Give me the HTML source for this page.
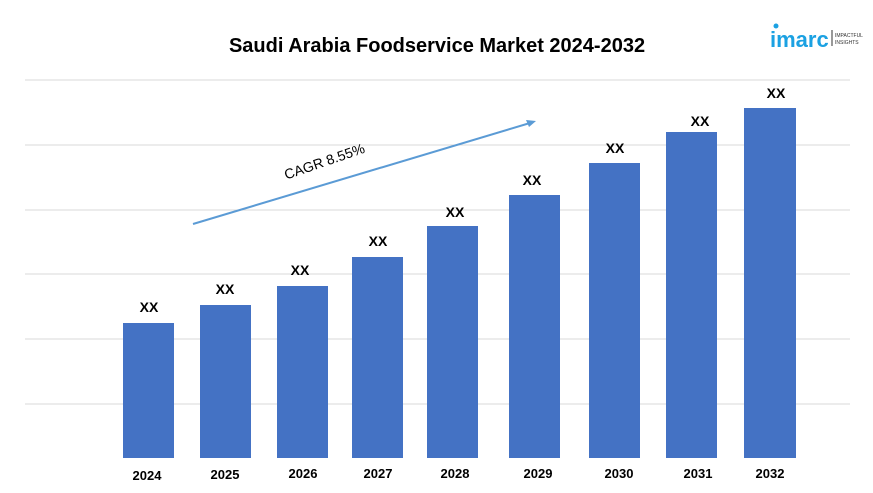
<!DOCTYPE html>
<html><head><style>
body{margin:0;background:#fff;}
svg{display:block;font-family:"Liberation Sans",sans-serif;}
</style></head><body>
<svg width="873" height="493" viewBox="0 0 873 493">
<rect width="873" height="493" fill="#fff"/>
<text x="437" y="52" text-anchor="middle" font-size="20" font-weight="bold" fill="#000">Saudi Arabia Foodservice Market 2024-2032</text>
<g stroke="#d9d9d9" stroke-width="1">
<line x1="25" x2="850" y1="80" y2="80"/><line x1="25" x2="850" y1="145" y2="145"/>
<line x1="25" x2="850" y1="210" y2="210"/><line x1="25" x2="850" y1="274" y2="274"/>
<line x1="25" x2="850" y1="339" y2="339"/><line x1="25" x2="850" y1="404" y2="404"/>
</g>
<g fill="#4472c4">
<rect x="123" y="323" width="51" height="135"/>
<rect x="200" y="305" width="51" height="153"/>
<rect x="277" y="286" width="51" height="172"/>
<rect x="352" y="257" width="51" height="201"/>
<rect x="427" y="226" width="51" height="232"/>
<rect x="509" y="195" width="51" height="263"/>
<rect x="589" y="163" width="51" height="295"/>
<rect x="666" y="132" width="51" height="326"/>
<rect x="744" y="108" width="52" height="350"/>
</g>
<g font-size="14" font-weight="bold" text-anchor="middle" fill="#000">
<text x="149" y="312">XX</text><text x="225" y="294">XX</text><text x="300" y="275">XX</text>
<text x="378" y="246">XX</text><text x="455" y="217">XX</text><text x="532" y="185">XX</text>
<text x="615" y="153">XX</text><text x="700" y="126">XX</text><text x="776" y="98">XX</text>
</g>
<g font-size="13" font-weight="bold" text-anchor="middle" fill="#000">
<text x="147" y="480">2024</text><text x="225" y="479">2025</text><text x="303" y="478">2026</text>
<text x="378" y="478">2027</text><text x="455" y="478">2028</text><text x="538" y="478">2029</text>
<text x="619" y="478">2030</text><text x="698" y="478">2031</text><text x="770" y="478">2032</text>
</g>
<line x1="193" y1="224" x2="530" y2="123" stroke="#5b9bd5" stroke-width="2"/>
<polygon points="536,121 526,120 529,127" fill="#5b9bd5"/>
<text x="326" y="166" font-size="14" fill="#000" text-anchor="middle" transform="rotate(-19 326 166)">CAGR 8.55%</text>
<circle cx="776" cy="26" r="2.5" fill="#1ba1e2"/>
<text x="770" y="47" font-size="22" font-weight="bold" fill="#1ba1e2">imarc</text>
<line x1="832" y1="30" x2="832" y2="46" stroke="#333" stroke-width="1"/>
<text x="835" y="37" font-size="5" fill="#333">IMPACTFUL</text>
<text x="835" y="44" font-size="5" fill="#333">INSIGHTS</text>
</svg>
</body></html>
